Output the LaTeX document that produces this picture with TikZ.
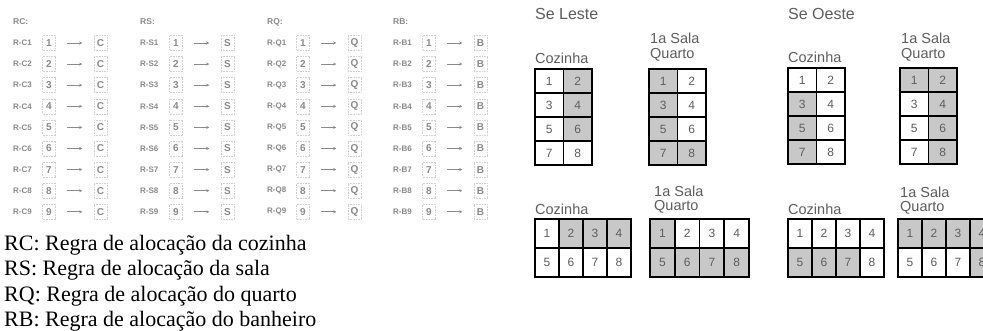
\documentclass[tikz,border=0pt]{standalone}
\usepackage{fontspec}
\setmainfont{Liberation Serif}
\setsansfont{Liberation Sans}
\usetikzlibrary{arrows.meta}
\definecolor{cellgray}{HTML}{C8C8C8}
\definecolor{labgray}{HTML}{5E5E5E}
\definecolor{fadegray}{HTML}{8A8A8A}
\definecolor{boxgray}{HTML}{D0D0D0}
\tikzset{
  cellbox/.style={draw=black, line width=1.9pt, inner sep=0pt, text=labgray,
    font=\sffamily\fontsize{12}{12}\selectfont},
  roomlab/.style={anchor=west, inner sep=0pt, text=labgray,
    font=\sffamily\fontsize{14.5}{14.5}\selectfont},
  sidelab/.style={anchor=west, inner sep=0pt, text=labgray,
    font=\sffamily\fontsize{16}{16}\selectfont},
  hdrlab/.style={anchor=west, inner sep=0pt, text=fadegray,
    font=\sffamily\bfseries\fontsize{8.5}{8.5}\selectfont},
  rowlab/.style={anchor=west, inner sep=0pt, text=fadegray,
    font=\sffamily\bfseries\fontsize{8}{8}\selectfont},
  smallbox/.style={draw=boxgray, line width=0.5pt, dashed, dash pattern=on 1pt off 0.6pt,
    minimum width=13pt, minimum height=15pt, inner sep=0pt, text=fadegray,
    font=\sffamily\bfseries\fontsize{10}{10}\selectfont},
  fadearrow/.style={draw=fadegray, line width=0.6pt, -{Stealth[length=3pt,width=3pt]},
    shorten >=11.5pt, shorten <=11.5pt},
  legendlab/.style={anchor=west, inner sep=0pt, text=black,
    font=\rmfamily\fontsize{22}{22}\selectfont}
}
\newcommand{\roomgrid}[7]{%
  \foreach \f [count=\i from 0] in {#7} {%
    \pgfmathtruncatemacro\cc{mod(\i,#4)}%
    \pgfmathtruncatemacro\rr{floor(\i/#4)}%
    \pgfmathtruncatemacro\nn{\i+1}%
    \ifnum\f=1 \def\fc{cellgray}\else\def\fc{white}\fi
    \node[cellbox, fill=\fc, minimum width=#5pt, minimum height=#6pt]
      (#1-\nn) at ({#2+(\cc+0.5)*#5},{#3+(\rr+0.5)*#6}) {\nn};
  }%
}
\begin{document}
\begin{tikzpicture}[x=1pt,y=-1pt]
\useasboundingbox (0,0) rectangle (983,331);
\clip (0,0) rectangle (983,331);
\fill[white] (0,0) rectangle (983,331);

% left rule tables
\foreach \lab/\lx in {C/13, S/140, Q/267, B/393} {
  \node[hdrlab] (h\lab) at (\lx,22) {R\lab:};
  \foreach \k in {1,...,9} {
    \pgfmathsetmacro\yy{43+21.1*(\k-1)}
    \node[rowlab] (l\lab\k) at (\lx,\yy) {R-\lab\k};
    \node[smallbox] (n\lab\k) at (\lx+36,\yy) {\k};
    \node[smallbox] (t\lab\k) at (\lx+87.5,\yy) {\lab};
    \draw[fadearrow] (n\lab\k) -- (t\lab\k);
  }
}

% legend
\node[legendlab] (leg1) at (4,245) {RC: Regra de alocação da cozinha};
\node[legendlab] (leg2) at (4,270.5) {RS: Regra de alocação da sala};
\node[legendlab] (leg3) at (4,296) {RQ: Regra de alocação do quarto};
\node[legendlab] (leg4) at (4,321) {RB: Regra de alocação do banheiro};

% side titles
\node[sidelab] (leste) at (535,14) {Se Leste};
\node[sidelab] (oeste) at (788,14) {Se Oeste};

% vertical grids
\node[roomlab] (slvc) at (535,58) {Cozinha};
\node[roomlab] (slvs) at (650,38) {1a Sala};
\node[roomlab] (slvq) at (650,55) {Quarto};
\roomgrid{SLVC}{535}{69}{2}{28.5}{24}{0,1,0,1,0,1,0,0}
\roomgrid{SLVQ}{649}{69}{2}{28.5}{24}{1,0,1,0,1,0,1,1}

\node[roomlab] (sovc) at (788,57) {Cozinha};
\node[roomlab] (sovs) at (901,38) {1a Sala};
\node[roomlab] (sovq) at (901,55) {Quarto};
\roomgrid{SOVC}{788}{68}{2}{28.5}{24}{0,0,1,0,1,0,1,0}
\roomgrid{SOVQ}{900}{68}{2}{28.5}{24}{1,1,0,1,0,1,0,1}

% horizontal grids
\node[roomlab] (slhc) at (535,209) {Cozinha};
\node[roomlab] (slhs) at (654,191) {1a Sala};
\node[roomlab] (slhq) at (654,207) {Quarto};
\roomgrid{SLHC}{535}{219}{4}{24}{29}{0,1,1,1,0,0,0,0}
\roomgrid{SLHQ}{650}{219}{4}{24.75}{29}{1,0,0,0,1,1,1,1}

\node[roomlab] (sohc) at (788,209) {Cozinha};
\node[roomlab] (sohs) at (900,192) {1a Sala};
\node[roomlab] (sohq) at (900,208) {Quarto};
\roomgrid{SOHC}{788}{219}{4}{24}{29}{0,0,0,0,1,1,1,0}
\roomgrid{SOHQ}{898}{219}{4}{24}{29}{1,1,1,1,0,0,0,1}
\end{tikzpicture}
\end{document}
